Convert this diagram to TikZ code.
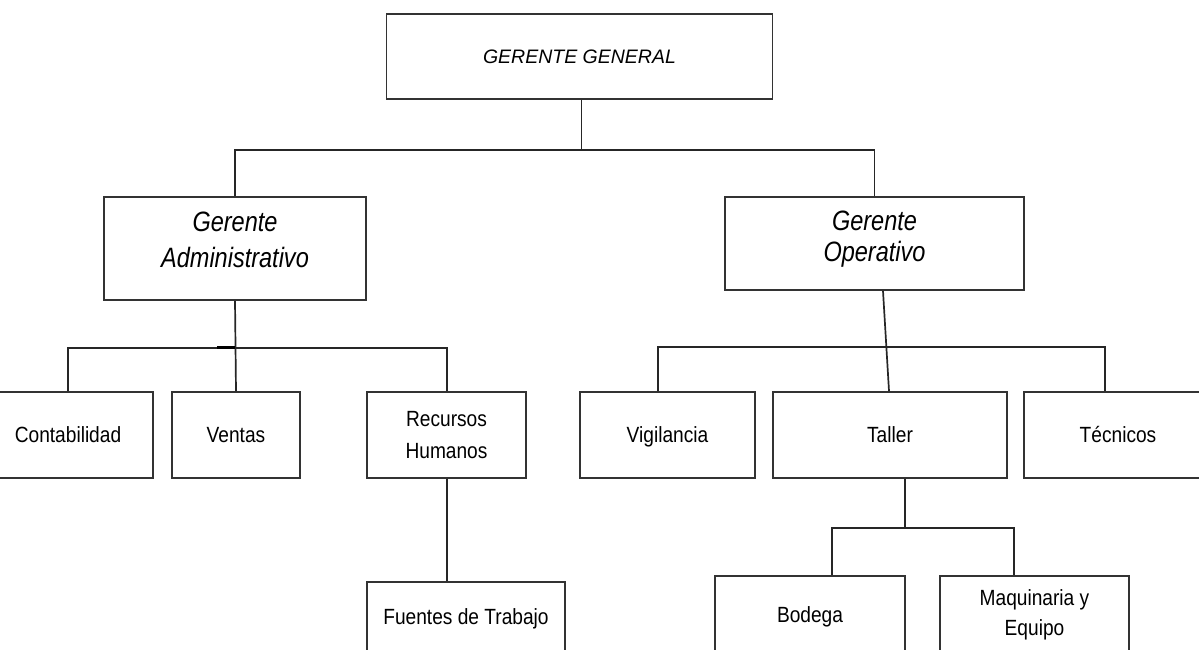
\documentclass[tikz,border=0pt]{standalone}
\usepackage{fontspec}
\setmainfont{Liberation Sans}
\newfontfamily\narrowfont[FakeStretch=0.87]{Liberation Sans}
\newfontfamily\bignarrowfont[FakeStretch=0.84]{Liberation Sans}
\begin{document}
\begin{tikzpicture}[x=1pt,y=-1pt,
  box/.style={draw=black!80,line width=1.9pt,inner sep=0pt,align=center,font=\narrowfont\fontsize{22}{32}\selectfont},
  onebox/.style={box,text height=15.5pt,text depth=-4.5pt},
  bigtext/.style={inner sep=0pt,align=center,font=\bignarrowfont\itshape\fontsize{28}{#1}\selectfont},
  link/.style={draw=black!85,line width=1.7pt}]
\useasboundingbox (0,0) rectangle (1199,649);
\clip (0,0) rectangle (1199,649);
\node[box,font=\itshape\fontsize{19.5}{22}\selectfont,text height=14pt,text depth=-6pt,minimum width=386pt,minimum height=85pt] (gg) at (579.5,56.5) {GERENTE GENERAL};
\node[box,minimum width=262pt,minimum height=103pt] (ga) at (235,248.5) {};
\node[bigtext=36] (gatext) at ([yshift=9pt]ga.center) {Gerente\\Administrativo};
\node[box,minimum width=299pt,minimum height=93pt] (go) at (874.5,243.5) {};
\node[bigtext=31] (gotext) at ([yshift=4pt]go.center) {Gerente\\Operativo};
\node[onebox,minimum width=170pt,minimum height=86pt] (cont) at (68,435) {Contabilidad};
\node[onebox,minimum width=128pt,minimum height=86pt] (ven) at (236,435) {Ventas};
\node[box,minimum width=159pt,minimum height=86pt] (rh) at (446.5,435) {Recursos\\Humanos};
\node[box,text height=15.5pt,text depth=-10.5pt,minimum width=198pt,minimum height=70pt] (ft) at (466,617) {Fuentes de Trabajo};
\node[onebox,minimum width=175pt,minimum height=86pt] (vig) at (667.5,435) {Vigilancia};
\node[onebox,minimum width=234pt,minimum height=86pt] (tal) at (890,435) {Taller};
\node[onebox,minimum width=188pt,minimum height=86pt] (tec) at (1118,435) {Técnicos};
\node[box,text height=15.5pt,text depth=-0.5pt,minimum width=190pt,minimum height=78pt] (bod) at (810,615) {Bodega};
\node[box,font=\narrowfont\fontsize{22}{30}\selectfont,minimum width=189pt,minimum height=78pt] (maq) at (1034.5,615) {Maquinaria y\\Equipo};
% top level
\draw[link] ([xshift=2pt]gg.south) -- ++(0,50) coordinate (j1);
\draw[link] (ga.north) |- (j1) -| (go.north);
% admin branch
\draw[link] (ga.south) -- (ven.north);
\draw[link] (cont.north) |- ([yshift=-47pt]ga.south) -| ([xshift=0.5pt]rh.north);
\draw[line width=3pt] ([xshift=-18pt,yshift=-47pt]ga.south) -- ([yshift=-47pt]ga.south);
\draw[link] ([xshift=0.5pt]rh.south) -- ([xshift=-19pt]ft.north);
% operative branch
\draw[link] ([xshift=8.5pt]go.south) -- ([xshift=-1pt]tal.north);
\draw[link] ([xshift=-9.5pt]vig.north) |- ([xshift=-13pt,yshift=44pt]tec.north) -- ([xshift=-13pt]tec.north);
% taller branch
\draw[link] ([xshift=15pt]tal.south) -- ++(0,49) coordinate (j2);
\draw[link] ([xshift=22pt]bod.north) |- (j2) -| ([xshift=-20.5pt]maq.north);
\end{tikzpicture}
\end{document}
